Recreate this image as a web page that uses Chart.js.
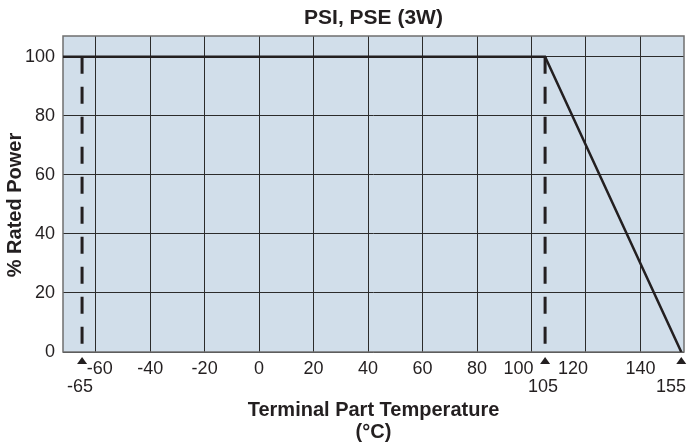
<!DOCTYPE html>
<html>
<head>
<meta charset="utf-8">
<script src="https://cdn.jsdelivr.net/npm/chart.js@4.4.1/dist/chart.umd.min.js"></script>
<style>
  html, body { margin: 0; padding: 0; background: #fff; }
  #wrap { width: 688px; height: 442px; }
</style>
</head>
<body>
<div id="wrap"><canvas id="chart"></canvas></div>
<script>
const TITLE = 'PSI, PSE (3W)';
const X_TITLE = ['Terminal Part Temperature', '(°C)'];
const Y_TITLE = '% Rated Power';

const xTicks = [-60, -40, -20, 0, 20, 40, 60, 80, 100, 120, 140];
const yTicks = [0, 20, 40, 60, 80, 100];

// derating curve: full power up to 105, nothing at 155
const curveTemp = [-72, 105, 155];
const curvePower = [100, 100, 0];

// limits marked with a triangle under the axis
const limitTemps = [-65, 105, 155];
const dashedTemps = [-65, 105];
const dashedPower = [100, 0];

const X_MIN = -72, X_MAX = 156, Y_MIN = 0, Y_MAX = 107;

const INK = '#231f20',
      PLOT_BG = '#d1deea',
      GRID = '#2b2b2b',
      FRAME = '#6f6f6f',
      FONT = '"Liberation Sans", Arial, Helvetica, sans-serif';

// some tick labels are nudged aside to leave room for the triangles
const labelShift = { '-60': 4, '100': -13, '120': -13 };

function toPoints(xs, ys) {
  return xs.map((x, i) => ({ x, y: ys[i] }));
}

function text(ctx, str, x, y, size, bold) {
  ctx.font = (bold ? 'bold ' : '') + size + 'px ' + FONT;
  ctx.fillText(str, x, y);
}

const frame = {
  id: 'frame',
  beforeDraw(chart) {
    const { ctx, chartArea: a } = chart;
    ctx.save();
    ctx.fillStyle = PLOT_BG;
    ctx.fillRect(a.left, a.top, a.right - a.left, a.bottom - a.top);
    ctx.restore();
  },
  beforeDatasetsDraw(chart) {
    const { ctx, chartArea: a } = chart;
    ctx.save();
    ctx.strokeStyle = FRAME;
    ctx.lineWidth = 1.5;
    ctx.strokeRect(a.left, a.top, a.right - a.left, a.bottom - a.top);
    ctx.restore();
  },
  afterDraw(chart) {
    const { ctx, chartArea: a } = chart;
    const xs = chart.scales.x;
    const mid = (a.left + a.right) / 2;
    ctx.save();
    ctx.fillStyle = INK;
    ctx.textAlign = 'center';
    ctx.textBaseline = 'middle';

    text(ctx, TITLE, mid, 18, 21, true);

    for (let v of xTicks) {
      const px = xs.getPixelForValue(v) + (labelShift[v] || 0);
      text(ctx, String(v), px, a.bottom + 17, 18, false);
    }

    for (let v of limitTemps) {
      const px = xs.getPixelForValue(v);
      ctx.beginPath();
      ctx.moveTo(px, a.bottom + 5);
      ctx.lineTo(px + 5, a.bottom + 12);
      ctx.lineTo(px - 5, a.bottom + 12);
      ctx.closePath();
      ctx.fill();
      // keep the last label inside the picture
      const lx = Math.min(px - 2, chart.width - 17);
      text(ctx, String(v), lx, a.bottom + 35, 18, false);
    }

    text(ctx, X_TITLE[0], mid, 410, 20, true);
    text(ctx, X_TITLE[1], mid, 432, 20, true);

    ctx.translate(15, 205);
    ctx.rotate(-Math.PI / 2);
    text(ctx, Y_TITLE, 0, 0, 20, true);
    ctx.restore();
  }
};

const datasets = [{
  data: toPoints(curveTemp, curvePower),
  borderColor: INK,
  borderWidth: 2.5,
  pointRadius: 0,
  tension: 0
}];

for (let t of dashedTemps) {
  datasets.push({
    data: toPoints([t, t], dashedPower),
    borderColor: INK,
    borderWidth: 3,
    borderDash: [17, 13],
    pointRadius: 0
  });
}

new Chart(document.getElementById('chart'), {
  type: 'line',
  data: { datasets },
  options: {
    responsive: true,
    maintainAspectRatio: false,
    animation: false,
    layout: { padding: { top: 36, right: 4, left: 0, bottom: 0 } },
    plugins: {
      legend: { display: false },
      tooltip: { enabled: false }
    },
    scales: {
      x: {
        type: 'linear',
        min: X_MIN,
        max: X_MAX,
        afterBuildTicks: s => { s.ticks = xTicks.map(value => ({ value })); },
        afterFit: s => { s.height = 90; },
        ticks: { display: false },
        grid: { color: GRID, lineWidth: 1, drawTicks: false },
        border: { display: false }
      },
      y: {
        min: Y_MIN,
        max: Y_MAX,
        afterBuildTicks: s => { s.ticks = yTicks.map(value => ({ value })); },
        afterFit: s => { s.width = 63; },
        ticks: {
          color: INK,
          padding: 8,
          font: { family: FONT, size: 18 }
        },
        grid: { color: GRID, lineWidth: 1, drawTicks: false },
        border: { display: false }
      }
    }
  },
  plugins: [frame]
});
</script>
</body>
</html>
